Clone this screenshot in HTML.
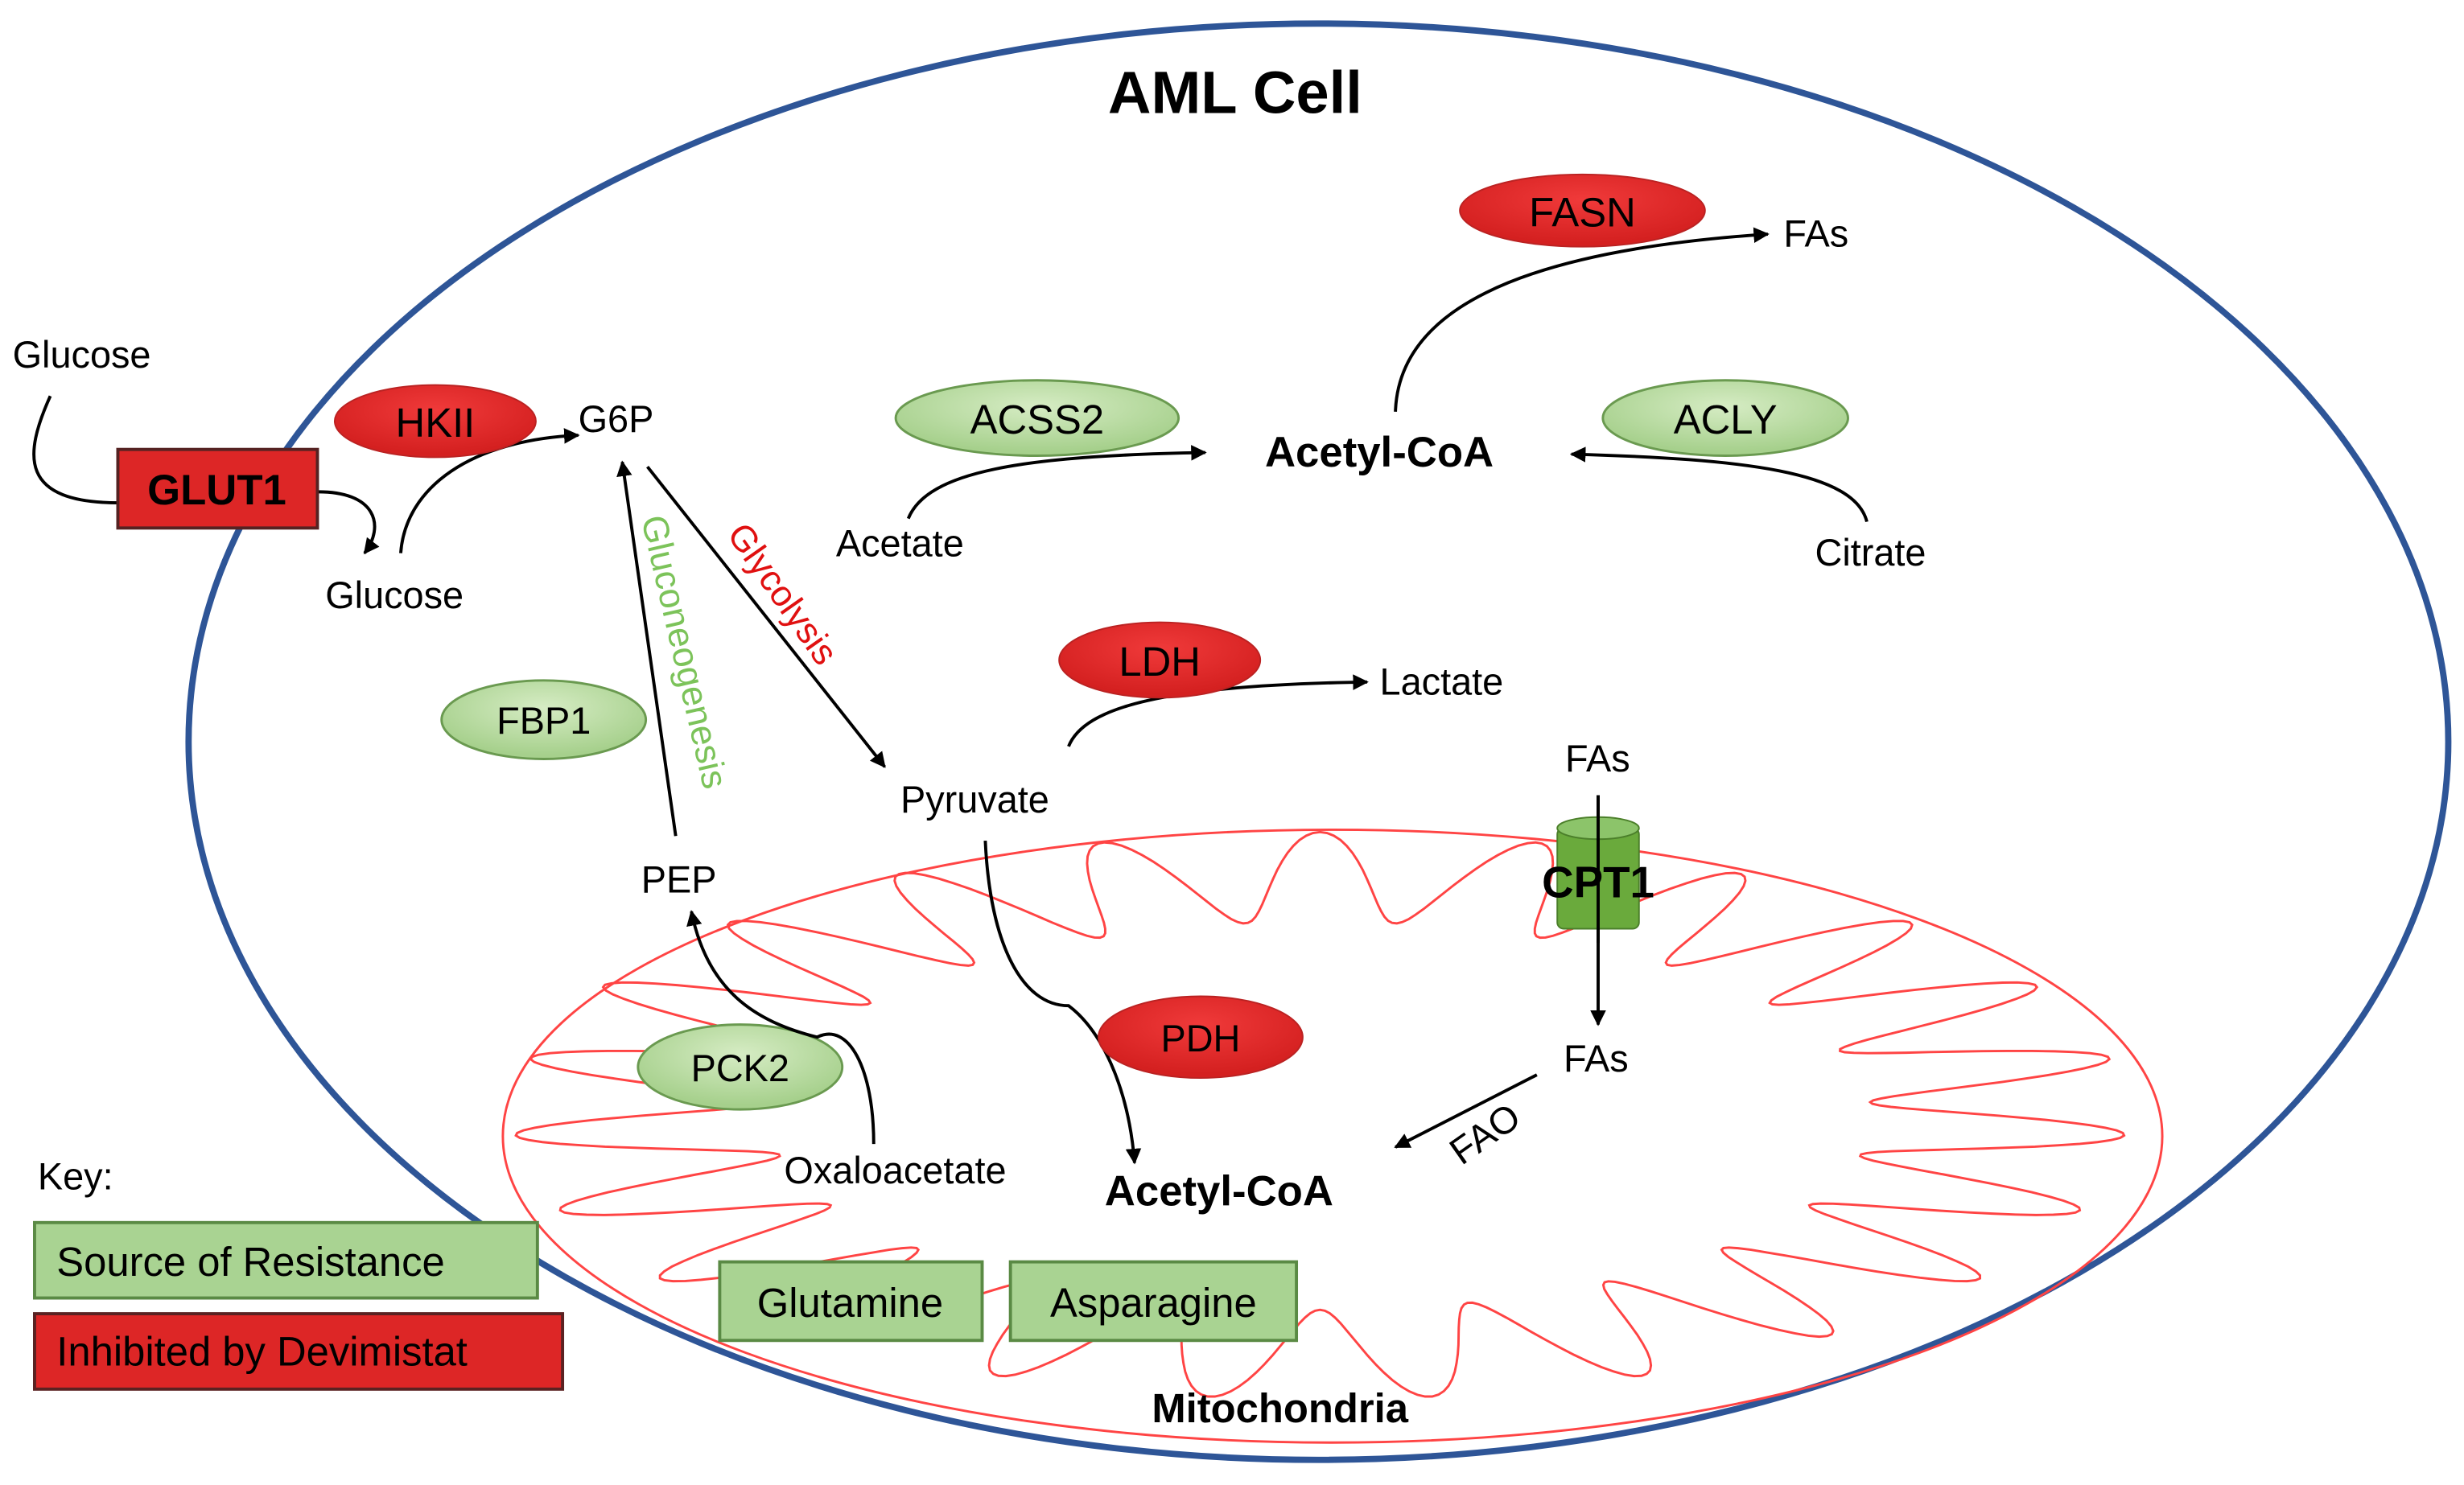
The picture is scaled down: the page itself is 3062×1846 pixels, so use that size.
<!DOCTYPE html>
<html><head><meta charset="utf-8">
<style>html,body{margin:0;padding:0;background:#fff}svg{display:block}</style></head>
<body>
<svg id="s" width="3062" height="1846" viewBox="0 0 1568 945" preserveAspectRatio="none" xmlns="http://www.w3.org/2000/svg" font-family="Liberation Sans, sans-serif">
<defs>
<marker id="a" viewBox="0 0 10 10" refX="9" refY="5" markerWidth="5" markerHeight="5" orient="auto"><path d="M0,0L10,5L0,10z" fill="#000"/></marker>
<radialGradient id="gr" cx="50%" cy="35%" r="60%"><stop offset="0" stop-color="#f03a3a"/><stop offset="1" stop-color="#d42020"/></radialGradient>
<radialGradient id="gg" cx="50%" cy="35%" r="60%"><stop offset="0" stop-color="#d6ecc4"/><stop offset="1" stop-color="#a6d08c"/></radialGradient>
</defs>
<ellipse cx="839" cy="472" rx="719" ry="457" fill="none" stroke="#2e5597" stroke-width="4"/>
<ellipse cx="848" cy="723" rx="528" ry="195" fill="none" stroke="#f44" stroke-width="1.5"/>
<path id="cr" fill="none" stroke="#f44" stroke-width="1.5"/>
<text x="786" y="72" font-size="38" font-weight="bold" text-anchor="middle">AML Cell</text>
<g font-size="24">
<text x="8" y="234">Glucose</text>
<text x="207" y="387">Glucose</text>
<text x="368" y="275">G6P</text>
<text x="408" y="568">PEP</text>
<text x="573" y="517">Pyruvate</text>
<text x="532" y="354">Acetate</text>
<text x="1155" y="360">Citrate</text>
<text x="1135" y="157">FAs</text>
<text x="878" y="442">Lactate</text>
<text x="996" y="491">FAs</text>
<text x="995" y="682">FAs</text>
<text x="499" y="753">Oxaloacetate</text>
<text x="24" y="757">Key:</text>
<text x="0" y="0" transform="translate(930,742) rotate(-35)">FAO</text>
</g>
<text x="805" y="297" font-size="27" font-weight="bold">Acetyl-CoA</text>
<text x="703" y="767" font-size="27" font-weight="bold">Acetyl-CoA</text>
<text x="733" y="905" font-size="26" font-weight="bold">Mitochondria</text>
<text transform="translate(408,330) rotate(77)" font-size="23" fill="#7cc35a">Gluconeogenesis</text>
<text transform="translate(462,340) rotate(55)" font-size="23" fill="#e01010">Glycolysis</text>
<g fill="none" stroke="#000" stroke-width="2" marker-end="url(#a)">
<path d="M200,313 C240,312 245,335 232,352"/>
<path d="M255,352 C258,310 300,280 368,277"/>
<path d="M430,532 L396,294"/>
<path d="M412,297 L563,488"/>
<path d="M578,330 C590,300 650,290 767,288"/>
<path d="M1188,332 C1180,300 1110,292 1000,289"/>
<path d="M888,262 C890,200 960,160 1125,149"/>
<path d="M680,475 C690,450 740,436 870,434"/>
<path d="M1017,506 L1017,652"/>
<path d="M978,684 L888,730"/>
<path d="M627,535 C630,600 650,640 680,640 C700,655 718,690 722,740"/>
</g>
<path d="M32,252 C15,290 12,320 76,320" fill="none" stroke="#000" stroke-width="2"/>
<ellipse cx="277" cy="268" rx="64" ry="23" fill="url(#gr)" stroke="#b22" stroke-width="1"/>
<text x="277" y="278" font-size="26" text-anchor="middle">HKII</text>
<ellipse cx="1007" cy="134" rx="78" ry="23" fill="url(#gr)" stroke="#b22" stroke-width="1"/>
<text x="1007" y="144" font-size="26" text-anchor="middle">FASN</text>
<ellipse cx="738" cy="420" rx="64" ry="24" fill="url(#gr)" stroke="#b22" stroke-width="1"/>
<text x="738" y="430" font-size="26" text-anchor="middle">LDH</text>
<ellipse cx="764" cy="660" rx="65" ry="26" fill="url(#gr)" stroke="#b22" stroke-width="1"/>
<text x="764" y="669" font-size="24" text-anchor="middle">PDH</text>
<ellipse cx="660" cy="266" rx="90" ry="24" fill="url(#gg)" stroke="#6a9a50" stroke-width="1.5"/>
<text x="660" y="276" font-size="26" text-anchor="middle">ACSS2</text>
<ellipse cx="1098" cy="266" rx="78" ry="24" fill="url(#gg)" stroke="#6a9a50" stroke-width="1.5"/>
<text x="1098" y="276" font-size="26" text-anchor="middle">ACLY</text>
<ellipse cx="346" cy="458" rx="65" ry="25" fill="url(#gg)" stroke="#6a9a50" stroke-width="1.5"/>
<text x="346" y="467" font-size="24" text-anchor="middle">FBP1</text>
<ellipse cx="471" cy="679" rx="65" ry="27" fill="url(#gg)" stroke="#6a9a50" stroke-width="1.5"/>
<text x="471" y="688" font-size="24" text-anchor="middle">PCK2</text>
<path d="M556,728 C556,680 540,650 520,660 C480,650 450,630 440,580" fill="none" stroke="#000" stroke-width="2" marker-end="url(#a)"/>
<rect x="75" y="286" width="127" height="50" fill="#dd2626" stroke="#522" stroke-width="2"/>
<text x="138" y="321" font-size="27" font-weight="bold" text-anchor="middle">GLUT1</text>
<rect x="991" y="527" width="52" height="64" rx="4" fill="#6aaa3c" stroke="#4b7f2a"/>
<ellipse cx="1017" cy="527" rx="26" ry="7" fill="#8cc46a" stroke="#4b7f2a"/>
<line x1="1017" y1="506" x2="1017" y2="600" stroke="#000" stroke-width="2"/>
<text x="1017" y="571" font-size="28" font-weight="bold" text-anchor="middle">CPT1</text>
<rect x="458" y="803" width="167" height="50" fill="#a9d392" stroke="#5a8a44" stroke-width="2"/>
<text x="541" y="838" font-size="26" text-anchor="middle">Glutamine</text>
<rect x="643" y="803" width="182" height="50" fill="#a9d392" stroke="#5a8a44" stroke-width="2"/>
<text x="734" y="838" font-size="26" text-anchor="middle">Asparagine</text>
<rect x="22" y="778" width="320" height="48" fill="#a9d392" stroke="#5a8a44" stroke-width="2"/>
<text x="36" y="812" font-size="26">Source of Resistance</text>
<rect x="22" y="836" width="336" height="48" fill="#dd2626" stroke="#5a2222" stroke-width="2"/>
<text x="36" y="869" font-size="26">Inhibited by Devimistat</text>
</svg>
<script>
var d="",M=720,N=23,cx=840,cy=710;
for(var i=0;i<=M;i++){var t=i/M*2*Math.PI;var s=Math.sin(N*t);
var k=0.80+0.15*s;var x=cx+540*k*Math.cos(t),y=cy+190*k*Math.sin(t);d+=(i?"L":"M")+x.toFixed(1)+","+y.toFixed(1);}
document.getElementById("cr").setAttribute("d",d+"Z");
</script>
</body></html>
